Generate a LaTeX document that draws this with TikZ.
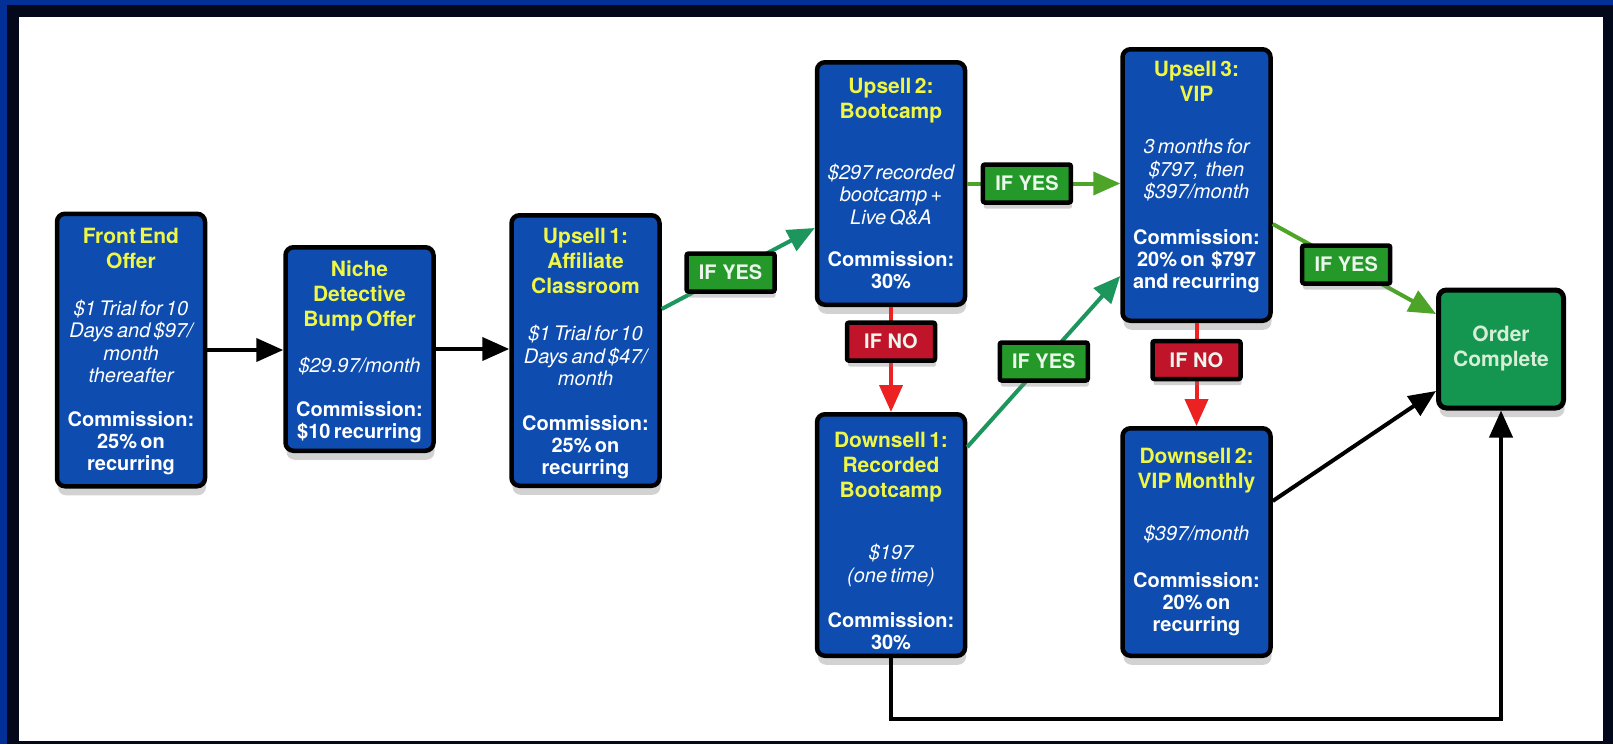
\documentclass[tikz,border=0pt]{standalone}
\usepackage{fontspec}
\setmainfont{TeX Gyre Heros}
\usetikzlibrary{arrows.meta,shadows}
\setlength{\parindent}{0pt}

\definecolor{boxblue}{RGB}{14,77,175}
\definecolor{ttlyellow}{RGB}{240,246,70}
\definecolor{lblgreen}{RGB}{36,152,40}
\definecolor{lblred}{RGB}{192,20,42}
\definecolor{lbltext}{RGB}{236,246,236}
\definecolor{tealgrn}{RGB}{28,150,92}
\definecolor{litegrn}{RGB}{78,164,40}
\definecolor{arrred}{RGB}{236,34,34}
\definecolor{ocgreen}{RGB}{20,150,80}
\definecolor{octext}{RGB}{214,238,214}
\definecolor{framedark}{RGB}{3,8,26}
\definecolor{frameblue}{RGB}{2,48,150}

\newcommand\boxtitle[1]{{\color{ttlyellow}\fontsize{21}{25}\selectfont\bfseries #1\par}}
\newcommand\boxbody[1]{{\color{white}\fontsize{20}{22.5}\selectfont\itshape #1\par}}
\newcommand\boxcomm[1]{{\color{white}\fontsize{20}{22}\selectfont\bfseries #1\par}}
\newcommand\topshift[1]{\par\vspace*{#1}}

\tikzset{
  funnel/.style={draw=black, line width=4.5pt, fill=boxblue, rounded corners=8pt,
    text width=144pt, inner xsep=2pt, inner ysep=0pt, align=center,
    drop shadow={shadow xshift=1pt, shadow yshift=-9pt, opacity=0.35}},
  declbl/.style={draw=black, line width=4.5pt, text=lbltext, rounded corners=2pt,
    font=\fontsize{20}{22}\selectfont\bfseries, minimum width=88pt, minimum height=38pt,
    inner sep=0pt, drop shadow={shadow xshift=1pt, shadow yshift=-6pt, opacity=0.35}},
  yeslbl/.style={declbl, fill=lblgreen},
  nolbl/.style={declbl, fill=lblred},
  flow/.style={line width=4pt, -{Triangle[length=27pt,width=23pt]}},
  blkflow/.style={flow, draw=black},
  tealflow/.style={flow, draw=tealgrn},
  liteflow/.style={flow, draw=litegrn},
  redflow/.style={flow, draw=arrred},
  donebox/.style={draw=black, line width=5pt, fill=ocgreen, rounded corners=8pt,
    minimum width=125pt, minimum height=118pt, align=center, text=octext,
    font=\fontsize{21}{25}\selectfont\bfseries,
    drop shadow={shadow xshift=1pt, shadow yshift=-9pt, opacity=0.35}}
}

\begin{document}
\begin{tikzpicture}[x=1pt,y=-1pt]
\useasboundingbox (0,0) rectangle (1613,744);
\fill[framedark] (0,0) rectangle (1613,744);
\fill[frameblue] (0,0) rectangle (1613,5);
\fill[frameblue] (0,0) rectangle (7,744);
\fill[white] (19,17) rectangle (1603,741);

\node[funnel, minimum height=272.5pt] (fe) at (131,350) {%
\topshift{-6pt}%
\boxtitle{Front End\\Offer}\vspace{24pt}%
\boxbody{\$1 Trial for 10\\Days and \$97/\\month\\thereafter}\vspace{22pt}%
\boxcomm{Commission:\\25\% on\\recurring}};

\node[funnel, minimum height=203.5pt] (niche) at (359.5,349) {%
\topshift{-4pt}%
\boxtitle{Niche\\Detective\\Bump Offer}\vspace{24pt}%
\boxbody{\$29.97/month}\vspace{22pt}%
\boxcomm{Commission:\\\$10 recurring}};

\node[funnel, minimum height=270.5pt] (u1) at (585.5,350.5) {%
\topshift{-4pt}%
\boxtitle{Upsell 1:\\Affiliate\\Classroom}\vspace{25pt}%
\boxbody{\$1 Trial for 10\\Days and \$47/\\month}\vspace{23pt}%
\boxcomm{Commission:\\25\% on\\recurring}};

\node[funnel, minimum height=242.5pt] (u2) at (891,183.5) {%
\boxtitle{Upsell 2:\\Bootcamp}\vspace{38pt}%
\boxbody{\$297 recorded\\bootcamp +\\Live Q\&A}\vspace{20pt}%
\boxcomm{Commission:\\30\%}};

\node[funnel, minimum height=271.5pt] (u3) at (1196.5,185) {%
\topshift{-26pt}%
\boxtitle{Upsell 3:\\VIP}\vspace{30pt}%
\boxbody{3 months for\\\$797,~ then\\\$397/month}\vspace{24pt}%
\boxcomm{Commission:\\20\% on~ \$797\\and recurring}};

\node[funnel, minimum height=241.5pt] (d1) at (891,535) {%
\topshift{2pt}%
\boxtitle{Downsell 1:\\Recorded\\Bootcamp}\vspace{40pt}%
\boxbody{\$197\\(one time)}\vspace{23pt}%
\boxcomm{Commission:\\30\%}};

\node[funnel, minimum height=227.5pt] (d2) at (1196.5,542) {%
\topshift{-10pt}%
\boxtitle{Downsell 2:\\VIP Monthly}\vspace{29pt}%
\boxbody{\$397/month}\vspace{25pt}%
\boxcomm{Commission:\\20\% on\\recurring}};

\node[donebox] (oc) at (1501,349) {Order\\Complete};

\coordinate (bottomrun) at (1200,719);

\draw[blkflow] (fe.east) -- (fe.east -| niche.west);
\draw[blkflow] (niche.east) -- (niche.east -| u1.west);
\draw[tealflow] ([yshift=41.5pt]u1.east) -- node[yeslbl, pos=0.45] (l1) {IF YES} ([yshift=-44.5pt]u2.west);
\draw[liteflow] (u2.east) -- node[yeslbl, pos=0.39] (l2) {IF YES} (u2.east -| u3.west);
\draw[redflow] (u2.south) -- node[nolbl, pos=0.33] (l3) {IF NO} (d1.north);
\draw[tealflow] ([yshift=88pt]d1.east) -- node[yeslbl, pos=0.5] (l4) {IF YES} ([yshift=-91pt]u3.west);
\draw[redflow] (u3.south) -- node[nolbl, pos=0.36] (l5) {IF NO} (d2.north);
\draw[liteflow] ([yshift=-39pt]u3.east) -- node[yeslbl, pos=0.45] (l6) {IF YES} ([yshift=35pt]oc.west);
\draw[blkflow] ([yshift=41pt]d2.east) -- ([yshift=-42pt]oc.west);
\draw[blkflow] (d1.south) |- (bottomrun) -| (oc.south);
\end{tikzpicture}
\end{document}
